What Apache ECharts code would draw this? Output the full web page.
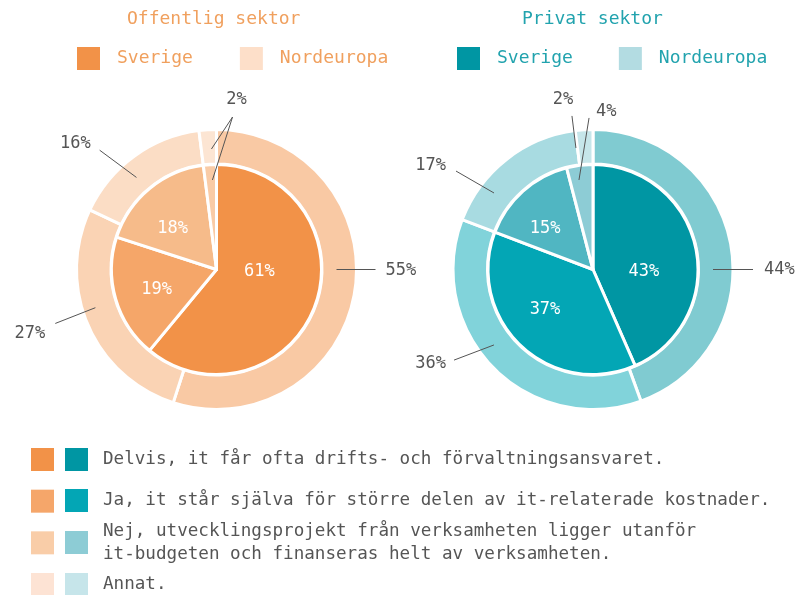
<!DOCTYPE html>
<html>
<head>
<meta charset="utf-8">
<script src="https://cdn.jsdelivr.net/npm/echarts@6/dist/echarts.min.js"></script>
<style>
html, body { margin: 0; padding: 0; background: #fff; }
#chart { width: 800px; height: 595px; }
</style>
</head>
<body>
<div id="chart"></div>
<script>
// data
var categories = [
    'Delvis, it får ofta drifts- och förvaltningsansvaret.',
    'Ja, it står själva för större delen av it-relaterade kostnader.',
    'Nej, utvecklingsprojekt från verksamheten ligger utanför\nit-budgeten och finanseras helt av verksamheten.',
    'Annat.'
];
var sectorTitles = ['Offentlig sektor', 'Privat sektor'];
var regionNames = ['Sverige', 'Nordeuropa'];
var offentligSverige = [61, 19, 18, 2];
var offentligNordeuropa = [55, 27, 16, 2];
var privatSverige = [43, 37, 15, 4];
var privatNordeuropa = [44, 36, 17, 2];

// colours
var orange = ['#F29248', '#F5A669', '#F6BB8A', '#F9CBA6'];
var teal = ['#0096A3', '#03A6B5', '#50B6C2', '#8DCCD5'];
var orangeKey = ['#F29248', '#F5A66A', '#F9CDA8', '#FDE3D4'];
var tealKey = ['#0096A3', '#03A6B5', '#8DCCD5', '#C6E5EA'];
var orangeText = '#F0A05E';
var tealText = '#22A3AE';
var grey = '#555555';
var font = "'DejaVu Sans Mono', monospace";

// half-way to white, used for the Nordeuropa ring
function tint(hex) {
    var n = parseInt(hex.slice(1), 16);
    var r = Math.round(((n >> 16) + 255) / 2);
    var g = Math.round((((n >> 8) & 255) + 255) / 2);
    var b = Math.round(((n & 255) + 255) / 2);
    return 'rgb(' + r + ',' + g + ',' + b + ')';
}

function polar(c, deg, r) {
    var a = deg * Math.PI / 180;
    return [c[0] + r * Math.sin(a), c[1] - r * Math.cos(a)];
}

// label placement: "at" = text inside the slice, "from"/"to" = leader line, "text" = offset + align
function labelPlacer(center, specs) {
    return function (p) {
        var s = specs[p.dataIndex];
        if (!s) return {};
        if (s.at) {
            var t = polar(center, s.at[0], s.at[1]);
            return { x: t[0], y: t[1], align: 'center', verticalAlign: 'middle' };
        }
        var b = polar(center, s.to[0], s.to[1]);
        return { x: b[0] + s.text[0], y: b[1] + s.text[1], align: s.text[2], verticalAlign: 'middle' };
    };
}

var leftCenter = [216.5, 269.5];
var rightCenter = [593, 269.5];

var leftInnerLabels = [
    { at: [92.7, 43] },
    { at: [251.6, 63] },
    { at: [312.9, 60] },
    { from: [357.4, 89.6], to: [6, 153.3], text: [4, -17, 'center'], hidden: true }
];
var leftOuterLabels = [
    { from: [90, 120], to: [90, 159], text: [10, 1, 'left'] },
    { from: [252.5, 127], to: [251.5, 170], text: [-10, 10, 'right'] },
    { from: [319, 122], to: [315.6, 167], text: [-9, -7, 'right'] },
    { from: [357.6, 120.6], to: [6, 153.3], text: [4, -17, 'center'] }
];
var rightInnerLabels = [
    { at: [92.2, 51] },
    { at: [230.2, 62.5] },
    { at: [310.5, 63] },
    { from: [351.1, 90.6], to: [358.5, 151.6], text: [7, -6, 'left'] }
];
var rightOuterLabels = [
    { from: [90, 120], to: [90, 160], text: [11, 0, 'left'] },
    { from: [232.7, 124.5], to: [236.9, 165.9], text: [-8, 3, 'right'] },
    { from: [307.7, 125.1], to: [305.7, 168.7], text: [-10, -5, 'right'] },
    { from: [352, 122.7], to: [352.2, 155], text: [-9, -16, 'center'] }
];

function leaderRows(center, specs) {
    return specs.filter(function (s) { return s.from; }).map(function (s) {
        return [center[0], center[1], s.from[0], s.from[1], s.to[0], s.to[1]];
    });
}

function innerData(values, colors, specs) {
    return values.map(function (v, i) {
        var item = { name: categories[i], value: v, itemStyle: { color: colors[i] } };
        if (specs[i].from) {
            item.label = { show: !specs[i].hidden, color: grey };
        }
        return item;
    });
}

function outerData(values, colors) {
    return values.map(function (v, i) {
        return { name: categories[i], value: v, itemStyle: { color: tint(colors[i]) } };
    });
}

function innerPie(center, values, colors, specs) {
    return {
        type: 'pie',
        name: regionNames[0],
        center: center,
        radius: [0, 105],
        startAngle: 90,
        clockwise: true,
        avoidLabelOverlap: false,
        animation: false,
        silent: true,
        itemStyle: { borderColor: '#fff', borderWidth: 3 },
        label: {
            show: true, position: 'inside', formatter: '{c}%',
            color: '#fff', fontFamily: font, fontSize: 17, textBorderWidth: 0
        },
        labelLine: { show: false },
        labelLayout: labelPlacer(center, specs),
        data: innerData(values, colors, specs)
    };
}

function outerPie(center, values, colors, specs) {
    return {
        type: 'pie',
        name: regionNames[1],
        center: center,
        radius: [105.5, 140],
        startAngle: 90,
        clockwise: true,
        avoidLabelOverlap: false,
        animation: false,
        silent: true,
        itemStyle: { borderColor: '#fff', borderWidth: 3 },
        label: {
            show: true, position: 'inside', formatter: '{c}%',
            color: grey, fontFamily: font, fontSize: 17
        },
        labelLine: { show: false },
        labelLayout: labelPlacer(center, specs),
        data: outerData(values, colors)
    };
}

function topLegend(left, gap, keyColors, textColor) {
    return {
        left: left, top: 47, padding: 0, orient: 'horizontal',
        itemWidth: 23, itemHeight: 23, itemGap: gap, icon: 'rect', selectedMode: false,
        itemStyle: { borderWidth: 0 },
        data: regionNames.map(function (n, i) { return { name: n, itemStyle: { color: keyColors[i], borderWidth: 0 } }; }),
        textStyle: { color: textColor, fontFamily: font, fontSize: 18, padding: [0, 0, 0, 12] }
    };
}

var keyRowTops = [448, 489, 519.5, 573];

var legends = [
    topLegend(77, 47, ['#F29248', '#FDDFC9'], orangeText),
    topLegend(457, 46, ['#0096A3', '#B3DCE2'], tealText),
    {
        left: 31, top: 448, height: 200, padding: 0, orient: 'vertical',
        itemWidth: 23, itemHeight: 23, itemGap: 18.67, icon: 'rect', selectedMode: false,
        itemStyle: { borderWidth: 0 },
        formatter: function () { return ''; },
        textStyle: { fontSize: 8 },
        data: categories.map(function (c, i) { return { name: c, itemStyle: { color: orangeKey[i], borderWidth: 0 } }; })
    }
];
categories.forEach(function (c, i) {
    legends.push({
        left: 65, top: keyRowTops[i], height: 100, padding: 0, orient: 'vertical',
        itemWidth: 23, itemHeight: 23, icon: 'rect', selectedMode: false,
        itemStyle: { borderWidth: 0 },
        data: [{ name: c, itemStyle: { color: tealKey[i], borderWidth: 0 } }],
        textStyle: { color: grey, fontFamily: font, fontSize: 17.6, lineHeight: 23, padding: [0, 0, 0, 10] }
    });
});

var myChart = echarts.init(document.getElementById('chart'), null, { renderer: 'canvas' });

var option = {
    backgroundColor: '#fff',
    animation: false,
    title: [
        { text: sectorTitles[0], left: 127, top: 10, padding: 0,
          textStyle: { color: orangeText, fontFamily: font, fontSize: 18, fontWeight: 'normal' } },
        { text: sectorTitles[1], left: 522, top: 10, padding: 0,
          textStyle: { color: tealText, fontFamily: font, fontSize: 18, fontWeight: 'normal' } }
    ],
    legend: legends,
    series: [
        outerPie(leftCenter, offentligNordeuropa, orange, leftOuterLabels),
        innerPie(leftCenter, offentligSverige, orange, leftInnerLabels),
        outerPie(rightCenter, privatNordeuropa, teal, rightOuterLabels),
        innerPie(rightCenter, privatSverige, teal, rightInnerLabels),
        {
            // leader lines from slices to their labels
            type: 'custom',
            coordinateSystem: 'none',
            silent: true,
            animation: false,
            z: 5,
            data: [].concat(
                leaderRows(leftCenter, leftOuterLabels),
                leaderRows(leftCenter, leftInnerLabels),
                leaderRows(rightCenter, rightOuterLabels),
                leaderRows(rightCenter, rightInnerLabels)
            ),
            renderItem: function (params, api) {
                var c = [api.value(0), api.value(1)];
                var a = polar(c, api.value(2), api.value(3));
                var b = polar(c, api.value(4), api.value(5));
                return {
                    type: 'line',
                    shape: { x1: a[0], y1: a[1], x2: b[0], y2: b[1] },
                    style: { stroke: grey, lineWidth: 1 }
                };
            }
        }
    ]
};

myChart.setOption(option);
</script>
</body>
</html>
